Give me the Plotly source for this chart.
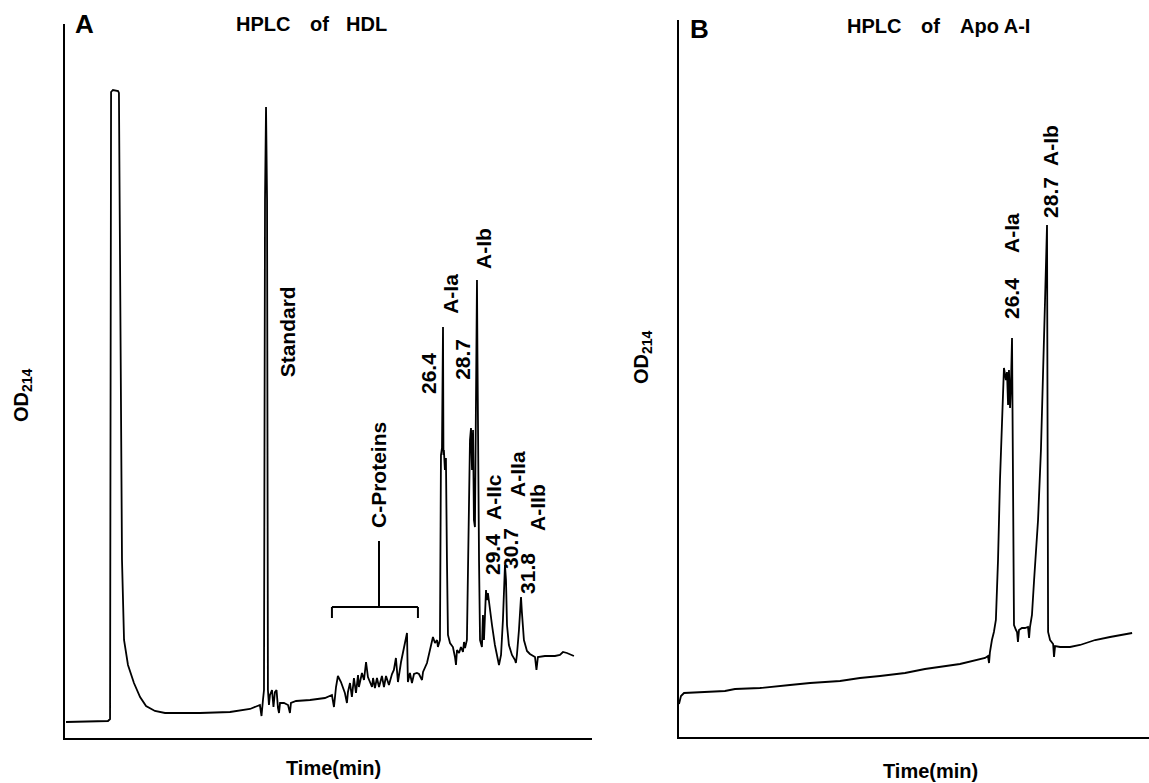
import plotly.graph_objects as go

# ---------------- Panel A : HPLC of HDL (time in min, signal in arbitrary units) -------------
a_time = [0.57, 3.45, 3.59, 3.66, 3.79, 4.14, 4.20, 4.34, 4.41, 4.55, 4.82, 5.23, 5.65, 6.06, 6.67,
          7.36, 9.76, 11.82, 13.19, 13.87, 13.98, 14.08, 14.15, 14.22, 14.29, 14.36, 14.42, 14.49,
          14.56, 14.70, 14.80, 14.90, 15.01, 15.11, 15.18, 15.25, 15.52, 15.80, 15.93, 16.00, 16.35,
          17.31, 18.33, 18.81, 18.95, 19.09, 19.22, 19.43, 19.70, 19.84, 19.91, 20.05, 20.18, 20.32,
          20.46, 20.60, 20.66, 20.87, 21.01, 21.15, 21.28, 21.42, 21.56, 21.63, 21.76, 21.90, 22.04,
          22.24, 22.38, 22.52, 22.72, 22.93, 23.06, 23.20, 23.34, 23.55, 23.68, 23.96, 24.02, 24.16,
          24.30, 24.44, 24.64, 24.78, 24.99, 25.06, 25.33, 25.54, 25.74, 25.88, 26.02, 26.08, 26.22,
          26.29, 26.36, 26.43, 26.46, 26.49, 26.56, 26.63, 26.70, 26.77, 26.91, 27.11, 27.25, 27.32,
          27.39, 27.53, 27.66, 27.80, 27.87, 27.94, 28.07, 28.21, 28.28, 28.35, 28.42, 28.49, 28.55,
          28.62, 28.69, 28.73, 28.76, 28.79, 28.83, 28.90, 28.97, 29.10, 29.17, 29.24, 29.38, 29.44,
          29.51, 29.65, 29.79, 29.99, 30.20, 30.27, 30.41, 30.54, 30.68, 30.75, 30.82, 30.95, 31.16,
          31.37, 31.43, 31.50, 31.64, 31.78, 31.84, 31.98, 32.19, 32.39, 32.74, 32.84, 32.94, 33.42,
          34.11, 34.45, 34.66, 34.93, 35.41]
a_signal = [16, 17, 19, 646, 648, 647, 645, 338, 178, 98, 73, 55, 41, 32, 27,
            25, 25, 26, 29, 33, 22, 38, 48, 538, 631, 538, 48, 33,
            43, 48, 31, 46, 48, 30, 25, 35, 35, 33, 25, 35, 37,
            38, 40, 43, 31, 51, 62, 56, 45, 35, 46, 55, 41, 60,
            45, 63, 51, 65, 58, 76, 61, 56, 51, 60, 50, 60, 51,
            62, 51, 62, 53, 64, 68, 80, 56, 76, 86, 105, 56, 65,
            55, 64, 65, 64, 58, 66, 75, 88, 101, 95, 98, 91, 98,
            283, 290, 411, 283, 288, 268, 280, 178, 103, 95, 91, 81, 73,
            88, 85, 91, 86, 96, 90, 98, 208, 298, 310, 268, 308, 218,
            211, 308, 388, 458, 388, 288, 178, 98, 91, 123, 98, 148, 138,
            145, 128, 113, 93, 76, 73, 83, 118, 173, 158, 113, 93, 83,
            78, 75, 83, 108, 141, 126, 98, 87, 84, 81, 68, 81, 82,
            82, 83, 86, 85, 82]

# ---------------- Panel B : HPLC of Apo A-I ---------------------------------------------------
b_time = [4.52, 4.65, 4.85, 5.90, 7.54, 8.20, 9.84, 11.81, 13.13, 15.10, 16.41, 17.73, 19.37,
          20.68, 21.67, 22.98, 24.63, 24.82, 24.89, 24.95, 25.08, 25.21, 25.34, 25.48, 25.61,
          25.74, 25.81, 25.87, 26.00, 26.07, 26.14, 26.20, 26.27, 26.33, 26.40, 26.46, 26.50,
          26.53, 26.66, 26.73, 26.79, 26.86, 27.05, 27.25, 27.45, 27.52, 27.58, 27.71, 27.85,
          27.98, 28.05, 28.11, 28.30, 28.44, 28.57, 28.70, 28.74, 28.77, 28.90, 29.10, 29.16,
          29.23, 29.56, 30.21, 30.87, 31.86, 32.84, 34.29]
b_signal = [33, 41, 44, 45, 46, 48, 49, 52, 54, 56, 59, 61, 64,
            68, 70, 73, 79, 81, 74, 85, 97, 105, 117, 177, 257,
            317, 357, 369, 357, 365, 332, 367, 329, 352, 399, 287, 167,
            112, 107, 105, 95, 107, 109, 109, 110, 99, 110, 122, 157,
            187, 192, 217, 287, 357, 437, 512, 287, 105, 97, 93, 80,
            91, 90, 90, 92, 97, 100, 104]

# peak labels (text, time, signal position)
a_labels = [("Standard", 15.75, 406), ("C-Proteins", 21.97, 263),
            ("26.4", 25.40, 364), ("A-Ia", 26.90, 444),
            ("28.7", 27.72, 379), ("A-Ib", 29.17, 490),
            ("29.4", 29.79, 184), ("A-IIc", 29.86, 241),
            ("30.7", 31.02, 190), ("A-IIa", 31.50, 264),
            ("31.8", 32.19, 165), ("A-IIb", 32.87, 231)]
b_labels = [("26.4", 26.40, 438), ("A-Ia", 26.40, 504),
            ("28.7", 28.96, 540), ("A-Ib", 28.96, 592)]

W, H = 1149, 783
FONT = "Liberation Sans"

fig = go.Figure()
fig.add_trace(go.Scatter(x=a_time, y=a_signal, mode="lines", xaxis="x", yaxis="y",
                         line=dict(color="black", width=1.8), showlegend=False))
fig.add_trace(go.Scatter(x=b_time, y=b_signal, mode="lines", xaxis="x2", yaxis="y2",
                         line=dict(color="black", width=1.8), showlegend=False))

ax_common = dict(showgrid=False, zeroline=False, showticklabels=False, ticks="",
                 showline=True, linecolor="black", linewidth=2, mirror=False)

fig.update_layout(
    width=W, height=H, margin=dict(l=0, r=0, t=0, b=0),
    paper_bgcolor="white", plot_bgcolor="white",
    xaxis=dict(domain=[65 / W, 592 / W], range=[0.5, 36.65], anchor="y", **ax_common),
    yaxis=dict(domain=[1 - 738 / H, 1 - 24 / H], range=[0, 714], anchor="x", **ax_common),
    xaxis2=dict(domain=[679 / W, 1.0], range=[4.52, 35.4], anchor="y2", **ax_common),
    yaxis2=dict(domain=[1 - 737 / H, 1 - 20 / H], range=[0, 717], anchor="x2", **ax_common),
)

ann = []
def txt(text, x, y, xref, yref, size=20, angle=0):
    ann.append(dict(text="<b>" + text + "</b>", x=x, y=y, xref=xref, yref=yref,
                    showarrow=False, textangle=angle, xanchor="center", yanchor="middle",
                    font=dict(family=FONT, size=size, color="black")))

for t, x, y in a_labels:
    txt(t, x, y, "x", "y", size=21, angle=-90)
for t, x, y in b_labels:
    txt(t, x, y, "x2", "y2", size=21, angle=-90)

# titles, panel letters, axis titles (paper coordinates)
txt("A", 84 / W, 1 - 24 / H, "paper", "paper", size=26)
txt("HPLC", 263 / W, 1 - 24 / H, "paper", "paper", size=20)
txt("of", 319 / W, 1 - 24 / H, "paper", "paper", size=20)
txt("HDL", 366 / W, 1 - 24 / H, "paper", "paper", size=20)
txt("B", 699 / W, 1 - 29 / H, "paper", "paper", size=26)
txt("HPLC", 874 / W, 1 - 26 / H, "paper", "paper", size=20)
txt("of", 930 / W, 1 - 26 / H, "paper", "paper", size=20)
txt("Apo A-I", 995 / W, 1 - 26 / H, "paper", "paper", size=20)
txt("OD<sub>214</sub>", 22 / W, 1 - 395 / H, "paper", "paper", size=20, angle=-90)
txt("OD<sub>214</sub>", 642 / W, 1 - 357 / H, "paper", "paper", size=20, angle=-90)
txt("Time(min)", 333 / W, 1 - 768 / H, "paper", "paper", size=20)
txt("Time(min)", 930 / W, 1 - 771 / H, "paper", "paper", size=20)

fig.update_layout(annotations=ann)

# C-Proteins bracket
br = dict(color="black", width=2)
shapes = [
    dict(type="line", xref="x", yref="y", x0=18.81, x1=24.71, y0=131, y1=131, line=br),
    dict(type="line", xref="x", yref="y", x0=18.81, x1=18.81, y0=131, y1=120, line=br),
    dict(type="line", xref="x", yref="y", x0=24.71, x1=24.71, y0=131, y1=120, line=br),
    dict(type="line", xref="x", yref="y", x0=22.04, x1=22.04, y0=131, y1=197, line=br),
]
fig.update_layout(shapes=shapes)

fig.write_html("out.html")
